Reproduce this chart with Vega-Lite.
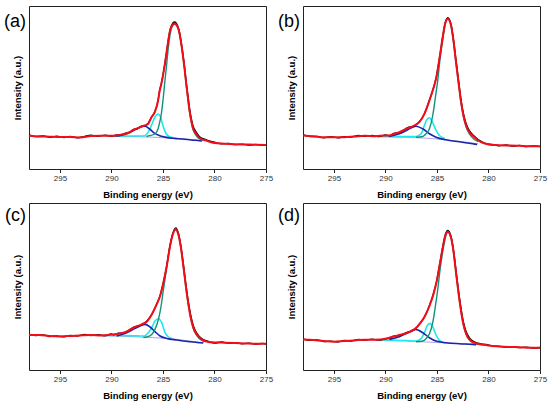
{
  "$schema": "https://vega.github.io/schema/vega-lite/v6.json",
  "padding": {"left": 3, "top": 5, "right": 2, "bottom": 8},
  "config": {
    "font": "Liberation Sans",
    "view": {"stroke": "#222", "strokeWidth": 1},
    "line": {"interpolate": "monotone"},
    "axis": {
      "grid": false,
      "domain": false,
      "tickColor": "#222",
      "labelFontSize": 8,
      "labelColor": "#333",
      "labelPadding": 1.5,
      "labelFlush": false,
      "labelOverlap": false,
      "titleFontSize": 9.5,
      "titleFontWeight": "bold",
      "titleColor": "#000"
    }
  },
  "datasets": {
    "lab": [{"p": "a", "t": "(a)"}, {"p": "b", "t": "(b)"}, {"p": "c", "t": "(c)"}, {"p": "d", "t": "(d)"}]
  },
  "data": {"values": [
    {"p":"a","s":"f","x":298,"y":33.3},{"p":"a","s":"f","x":297,"y":32.6},{"p":"a","s":"f","x":296,"y":32.3},{"p":"a","s":"f","x":295,"y":32},{"p":"a","s":"f","x":294,"y":32},{"p":"a","s":"f","x":293,"y":31.6},{"p":"a","s":"f","x":292,"y":33},{"p":"a","s":"f","x":291,"y":33.3},{"p":"a","s":"f","x":290,"y":33.3},{"p":"a","s":"f","x":289.5,"y":33.6},{"p":"a","s":"f","x":289,"y":34.5},{"p":"a","s":"f","x":288.7,"y":35},{"p":"a","s":"f","x":288.2,"y":37},{"p":"a","s":"f","x":287.9,"y":39},{"p":"a","s":"f","x":287.5,"y":40.5},{"p":"a","s":"f","x":287.1,"y":42.3},{"p":"a","s":"f","x":286.8,"y":43.5},{"p":"a","s":"f","x":286.45,"y":45},{"p":"a","s":"f","x":286.13,"y":51.6},{"p":"a","s":"f","x":285.8,"y":56.6},{"p":"a","s":"f","x":285.48,"y":68.3},{"p":"a","s":"f","x":285.32,"y":78.3},{"p":"a","s":"f","x":285.16,"y":85},{"p":"a","s":"f","x":285,"y":93.3},{"p":"a","s":"f","x":284.84,"y":103.3},{"p":"a","s":"f","x":284.67,"y":115},{"p":"a","s":"f","x":284.51,"y":126.6},{"p":"a","s":"f","x":284.35,"y":136.6},{"p":"a","s":"f","x":284.19,"y":142.3},{"p":"a","s":"f","x":283.87,"y":145.6},{"p":"a","s":"f","x":283.55,"y":141.6},{"p":"a","s":"f","x":283.38,"y":135},{"p":"a","s":"f","x":283.22,"y":125},{"p":"a","s":"f","x":283.06,"y":113.3},{"p":"a","s":"f","x":282.9,"y":100},{"p":"a","s":"f","x":282.74,"y":85},{"p":"a","s":"f","x":282.58,"y":71.6},{"p":"a","s":"f","x":282.42,"y":58.3},{"p":"a","s":"f","x":282.25,"y":48.3},{"p":"a","s":"f","x":282.1,"y":41.6},{"p":"a","s":"f","x":281.77,"y":35},{"p":"a","s":"f","x":281.45,"y":31},{"p":"a","s":"f","x":280.8,"y":28.5},{"p":"a","s":"f","x":280,"y":26},{"p":"a","s":"f","x":279,"y":25.3},{"p":"a","s":"f","x":278,"y":24.8},{"p":"a","s":"f","x":277,"y":24.5},{"p":"a","s":"f","x":276,"y":24.2},{"p":"a","s":"f","x":275,"y":24},

    {"p":"a","s":"r","x":298,"y":34.2},{"p":"a","s":"r","x":297.3,"y":32.4},{"p":"a","s":"r","x":296.6,"y":33.1},{"p":"a","s":"r","x":296,"y":31.6},{"p":"a","s":"r","x":295.3,"y":32.8},{"p":"a","s":"r","x":294.6,"y":31.4},{"p":"a","s":"r","x":294,"y":32.6},{"p":"a","s":"r","x":293.3,"y":31.2},{"p":"a","s":"r","x":292.6,"y":32.6},{"p":"a","s":"r","x":292,"y":33.8},{"p":"a","s":"r","x":291.3,"y":32.7},{"p":"a","s":"r","x":290.6,"y":33.9},{"p":"a","s":"r","x":290,"y":32.8},{"p":"a","s":"r","x":289.5,"y":34.1},{"p":"a","s":"r","x":289,"y":34.3},{"p":"a","s":"r","x":288.7,"y":35.6},{"p":"a","s":"r","x":288.2,"y":36.6},{"p":"a","s":"r","x":287.9,"y":39.5},{"p":"a","s":"r","x":287.5,"y":40.2},{"p":"a","s":"r","x":287.1,"y":42.9},{"p":"a","s":"r","x":286.8,"y":43.2},{"p":"a","s":"r","x":286.45,"y":45.6},{"p":"a","s":"r","x":286.13,"y":51.3},{"p":"a","s":"r","x":285.8,"y":57.2},{"p":"a","s":"r","x":285.48,"y":68},{"p":"a","s":"r","x":285.32,"y":78.8},{"p":"a","s":"r","x":285.16,"y":85.3},{"p":"a","s":"r","x":285,"y":93.8},{"p":"a","s":"r","x":284.84,"y":103.6},{"p":"a","s":"r","x":284.67,"y":115.5},{"p":"a","s":"r","x":284.51,"y":126.9},{"p":"a","s":"r","x":284.35,"y":137.2},{"p":"a","s":"r","x":284.19,"y":143},{"p":"a","s":"r","x":283.87,"y":147},{"p":"a","s":"r","x":283.55,"y":142.6},{"p":"a","s":"r","x":283.38,"y":136.2},{"p":"a","s":"r","x":283.22,"y":126.3},{"p":"a","s":"r","x":283.06,"y":114.8},{"p":"a","s":"r","x":282.9,"y":101.8},{"p":"a","s":"r","x":282.74,"y":87},{"p":"a","s":"r","x":282.58,"y":73.6},{"p":"a","s":"r","x":282.42,"y":60.6},{"p":"a","s":"r","x":282.25,"y":50.5},{"p":"a","s":"r","x":282.1,"y":43.8},{"p":"a","s":"r","x":281.77,"y":36.8},{"p":"a","s":"r","x":281.45,"y":32.4},{"p":"a","s":"r","x":280.8,"y":29.2},{"p":"a","s":"r","x":280,"y":26.8},{"p":"a","s":"r","x":279.3,"y":25.2},{"p":"a","s":"r","x":278.6,"y":25.5},{"p":"a","s":"r","x":278,"y":24.4},{"p":"a","s":"r","x":277.3,"y":24.9},{"p":"a","s":"r","x":276.6,"y":23.8},{"p":"a","s":"r","x":276,"y":24.6},{"p":"a","s":"r","x":275.3,"y":23.6},{"p":"a","s":"r","x":275,"y":24.3},

    {"p":"a","s":"t","x":286.6,"y":32.5},{"p":"a","s":"t","x":286.29,"y":33.3},{"p":"a","s":"t","x":285.8,"y":35},{"p":"a","s":"t","x":285.48,"y":40},{"p":"a","s":"t","x":285.32,"y":46.6},{"p":"a","s":"t","x":285.16,"y":55},{"p":"a","s":"t","x":285,"y":68.3},{"p":"a","s":"t","x":284.84,"y":85},{"p":"a","s":"t","x":284.67,"y":101.6},{"p":"a","s":"t","x":284.51,"y":118.3},{"p":"a","s":"t","x":284.35,"y":131.6},{"p":"a","s":"t","x":284.19,"y":140},{"p":"a","s":"t","x":283.87,"y":145},{"p":"a","s":"t","x":283.55,"y":141},{"p":"a","s":"t","x":283.38,"y":134.5},{"p":"a","s":"t","x":283.22,"y":124.5},{"p":"a","s":"t","x":283.06,"y":112.5},{"p":"a","s":"t","x":282.9,"y":99},{"p":"a","s":"t","x":282.74,"y":84},{"p":"a","s":"t","x":282.58,"y":70.5},{"p":"a","s":"t","x":282.42,"y":57},{"p":"a","s":"t","x":282.25,"y":47},{"p":"a","s":"t","x":282.1,"y":40},{"p":"a","s":"t","x":281.77,"y":33.5},{"p":"a","s":"t","x":281.45,"y":30},{"p":"a","s":"t","x":281.1,"y":29},

    {"p":"a","s":"c","x":290.5,"y":33},{"p":"a","s":"c","x":289,"y":33},{"p":"a","s":"c","x":288,"y":33},{"p":"a","s":"c","x":287.2,"y":33},{"p":"a","s":"c","x":286.77,"y":33.3},{"p":"a","s":"c","x":286.45,"y":36.6},{"p":"a","s":"c","x":286.13,"y":43.3},{"p":"a","s":"c","x":285.8,"y":51.6},{"p":"a","s":"c","x":285.48,"y":55},{"p":"a","s":"c","x":285.22,"y":51.6},{"p":"a","s":"c","x":285,"y":43.3},{"p":"a","s":"c","x":284.67,"y":35},{"p":"a","s":"c","x":284.35,"y":32.3},{"p":"a","s":"c","x":284,"y":31.5},

    {"p":"a","s":"b","x":289.6,"y":33},{"p":"a","s":"b","x":289.2,"y":33.3},{"p":"a","s":"b","x":288.22,"y":36.6},{"p":"a","s":"b","x":287.58,"y":40},{"p":"a","s":"b","x":287.1,"y":42.3},{"p":"a","s":"b","x":286.77,"y":43},{"p":"a","s":"b","x":286.29,"y":40},{"p":"a","s":"b","x":285.8,"y":35.6},{"p":"a","s":"b","x":285.32,"y":33.3},{"p":"a","s":"b","x":284.67,"y":31.6},{"p":"a","s":"b","x":283.87,"y":30.6},{"p":"a","s":"b","x":283.06,"y":30},{"p":"a","s":"b","x":282.25,"y":29},{"p":"a","s":"b","x":281.45,"y":28.3},{"p":"a","s":"b","x":281.2,"y":28},

    {"p":"a","s":"g","x":290.5,"y":32.8},{"p":"a","s":"g","x":288,"y":32.5},{"p":"a","s":"g","x":286,"y":31.8},{"p":"a","s":"g","x":284,"y":30.8},{"p":"a","s":"g","x":282,"y":29.3},{"p":"a","s":"g","x":281,"y":28.3},

    {"p":"b","s":"f","x":298,"y":33.5},{"p":"b","s":"f","x":297,"y":32.8},{"p":"b","s":"f","x":296,"y":31.8},{"p":"b","s":"f","x":295,"y":31.8},{"p":"b","s":"f","x":294,"y":31.8},{"p":"b","s":"f","x":293,"y":32.5},{"p":"b","s":"f","x":292,"y":33.2},{"p":"b","s":"f","x":291,"y":32.8},{"p":"b","s":"f","x":290,"y":33.5},{"p":"b","s":"f","x":289.62,"y":33.5},{"p":"b","s":"f","x":289.2,"y":35},{"p":"b","s":"f","x":288.65,"y":36.8},{"p":"b","s":"f","x":287.84,"y":40.8},{"p":"b","s":"f","x":287.19,"y":43.5},{"p":"b","s":"f","x":286.71,"y":46.8},{"p":"b","s":"f","x":286.22,"y":55.2},{"p":"b","s":"f","x":285.73,"y":68.5},{"p":"b","s":"f","x":285.41,"y":78.5},{"p":"b","s":"f","x":285.09,"y":90.2},{"p":"b","s":"f","x":284.76,"y":110.2},{"p":"b","s":"f","x":284.44,"y":131.8},{"p":"b","s":"f","x":284.21,"y":145.2},{"p":"b","s":"f","x":283.95,"y":150.2},{"p":"b","s":"f","x":283.63,"y":143.5},{"p":"b","s":"f","x":283.4,"y":128.5},{"p":"b","s":"f","x":283.15,"y":106.8},{"p":"b","s":"f","x":282.89,"y":85.2},{"p":"b","s":"f","x":282.66,"y":66.8},{"p":"b","s":"f","x":282.43,"y":53.5},{"p":"b","s":"f","x":282.17,"y":43.5},{"p":"b","s":"f","x":281.85,"y":36.8},{"p":"b","s":"f","x":281.37,"y":31.8},{"p":"b","s":"f","x":280.72,"y":26.8},{"p":"b","s":"f","x":280.23,"y":25.2},{"p":"b","s":"f","x":280,"y":24.6},{"p":"b","s":"f","x":279,"y":23.8},{"p":"b","s":"f","x":278,"y":23.5},{"p":"b","s":"f","x":277,"y":23.2},{"p":"b","s":"f","x":276,"y":22.8},{"p":"b","s":"f","x":275,"y":22.8},

    {"p":"b","s":"r","x":298,"y":34.3},{"p":"b","s":"r","x":297.3,"y":32.4},{"p":"b","s":"r","x":296.6,"y":32.6},{"p":"b","s":"r","x":296,"y":31.2},{"p":"b","s":"r","x":295.3,"y":32.4},{"p":"b","s":"r","x":294.6,"y":31.2},{"p":"b","s":"r","x":294,"y":32.3},{"p":"b","s":"r","x":293.3,"y":32},{"p":"b","s":"r","x":292.6,"y":33.6},{"p":"b","s":"r","x":292,"y":32.6},{"p":"b","s":"r","x":291.3,"y":33.5},{"p":"b","s":"r","x":290.6,"y":32.4},{"p":"b","s":"r","x":290,"y":34.1},{"p":"b","s":"r","x":289.62,"y":33.2},{"p":"b","s":"r","x":289.2,"y":35.6},{"p":"b","s":"r","x":288.65,"y":36.4},{"p":"b","s":"r","x":287.84,"y":41.3},{"p":"b","s":"r","x":287.19,"y":43.1},{"p":"b","s":"r","x":286.71,"y":47.3},{"p":"b","s":"r","x":286.22,"y":55},{"p":"b","s":"r","x":285.73,"y":69},{"p":"b","s":"r","x":285.41,"y":78.8},{"p":"b","s":"r","x":285.09,"y":90.6},{"p":"b","s":"r","x":284.76,"y":110.6},{"p":"b","s":"r","x":284.44,"y":132.3},{"p":"b","s":"r","x":284.21,"y":145.8},{"p":"b","s":"r","x":283.95,"y":151.4},{"p":"b","s":"r","x":283.63,"y":144.6},{"p":"b","s":"r","x":283.4,"y":130},{"p":"b","s":"r","x":283.15,"y":108.8},{"p":"b","s":"r","x":282.89,"y":87.4},{"p":"b","s":"r","x":282.66,"y":69},{"p":"b","s":"r","x":282.43,"y":55.6},{"p":"b","s":"r","x":282.17,"y":45.6},{"p":"b","s":"r","x":281.85,"y":38.4},{"p":"b","s":"r","x":281.37,"y":32.8},{"p":"b","s":"r","x":280.72,"y":27.6},{"p":"b","s":"r","x":280.23,"y":25.3},{"p":"b","s":"r","x":279.6,"y":24.6},{"p":"b","s":"r","x":279,"y":23.2},{"p":"b","s":"r","x":278.3,"y":24},{"p":"b","s":"r","x":277.6,"y":22.8},{"p":"b","s":"r","x":277,"y":23.6},{"p":"b","s":"r","x":276.3,"y":22.4},{"p":"b","s":"r","x":275.6,"y":23.2},{"p":"b","s":"r","x":275,"y":22.4},

    {"p":"b","s":"t","x":287.03,"y":31.8},{"p":"b","s":"t","x":286.38,"y":32.5},{"p":"b","s":"t","x":286.06,"y":35.2},{"p":"b","s":"t","x":285.73,"y":40.2},{"p":"b","s":"t","x":285.41,"y":53.5},{"p":"b","s":"t","x":285.15,"y":71.8},{"p":"b","s":"t","x":284.93,"y":88},{"p":"b","s":"t","x":284.7,"y":110},{"p":"b","s":"t","x":284.44,"y":129},{"p":"b","s":"t","x":284.21,"y":144.5},{"p":"b","s":"t","x":283.95,"y":150},{"p":"b","s":"t","x":283.63,"y":143},{"p":"b","s":"t","x":283.4,"y":128},{"p":"b","s":"t","x":283.15,"y":106},{"p":"b","s":"t","x":282.89,"y":84.5},{"p":"b","s":"t","x":282.66,"y":66},{"p":"b","s":"t","x":282.43,"y":52.5},{"p":"b","s":"t","x":282.17,"y":42},{"p":"b","s":"t","x":281.85,"y":35},{"p":"b","s":"t","x":281.37,"y":29.5},{"p":"b","s":"t","x":281,"y":27.5},

    {"p":"b","s":"c","x":290.5,"y":32.5},{"p":"b","s":"c","x":289,"y":32.5},{"p":"b","s":"c","x":288,"y":32.5},{"p":"b","s":"c","x":287.03,"y":32.5},{"p":"b","s":"c","x":286.54,"y":35.2},{"p":"b","s":"c","x":286.22,"y":43.5},{"p":"b","s":"c","x":285.99,"y":49.2},{"p":"b","s":"c","x":285.73,"y":51.2},{"p":"b","s":"c","x":285.48,"y":47.8},{"p":"b","s":"c","x":285.15,"y":40.2},{"p":"b","s":"c","x":284.76,"y":33.5},{"p":"b","s":"c","x":284.44,"y":31.2},{"p":"b","s":"c","x":284.2,"y":30.5},

    {"p":"b","s":"b","x":289.62,"y":32.5},{"p":"b","s":"b","x":288.65,"y":35.2},{"p":"b","s":"b","x":287.84,"y":39.2},{"p":"b","s":"b","x":287.03,"y":42.8},{"p":"b","s":"b","x":286.38,"y":40.2},{"p":"b","s":"b","x":285.73,"y":35.2},{"p":"b","s":"b","x":285.09,"y":31.8},{"p":"b","s":"b","x":284.12,"y":29.2},{"p":"b","s":"b","x":282.83,"y":27.2},{"p":"b","s":"b","x":281.53,"y":25.2},{"p":"b","s":"b","x":281.1,"y":24.5},

    {"p":"b","s":"g","x":290.5,"y":32.3},{"p":"b","s":"g","x":288,"y":31.6},{"p":"b","s":"g","x":286,"y":30.8},{"p":"b","s":"g","x":284,"y":29},{"p":"b","s":"g","x":282,"y":26.6},{"p":"b","s":"g","x":281,"y":25.2},

    {"p":"c","s":"f","x":298,"y":35},{"p":"c","s":"f","x":297,"y":35},{"p":"c","s":"f","x":296,"y":34},{"p":"c","s":"f","x":295,"y":33.6},{"p":"c","s":"f","x":294,"y":34},{"p":"c","s":"f","x":293,"y":34.6},{"p":"c","s":"f","x":292,"y":35},{"p":"c","s":"f","x":291,"y":34.6},{"p":"c","s":"f","x":290,"y":35.4},{"p":"c","s":"f","x":289.81,"y":35.6},{"p":"c","s":"f","x":289.3,"y":36.3},{"p":"c","s":"f","x":288.84,"y":37.3},{"p":"c","s":"f","x":288.3,"y":39.5},{"p":"c","s":"f","x":287.87,"y":42.3},{"p":"c","s":"f","x":287.06,"y":45.6},{"p":"c","s":"f","x":286.58,"y":48.3},{"p":"c","s":"f","x":286.09,"y":55.6},{"p":"c","s":"f","x":285.61,"y":65.6},{"p":"c","s":"f","x":285.28,"y":74},{"p":"c","s":"f","x":284.96,"y":87.3},{"p":"c","s":"f","x":284.63,"y":104},{"p":"c","s":"f","x":284.31,"y":124},{"p":"c","s":"f","x":284.05,"y":135.6},{"p":"c","s":"f","x":283.76,"y":140.6},{"p":"c","s":"f","x":283.5,"y":135.6},{"p":"c","s":"f","x":283.28,"y":124},{"p":"c","s":"f","x":283.02,"y":104},{"p":"c","s":"f","x":282.76,"y":82.3},{"p":"c","s":"f","x":282.53,"y":65.6},{"p":"c","s":"f","x":282.3,"y":52.3},{"p":"c","s":"f","x":282.05,"y":42.3},{"p":"c","s":"f","x":281.72,"y":35.6},{"p":"c","s":"f","x":281.24,"y":30.6},{"p":"c","s":"f","x":280.59,"y":28},{"p":"c","s":"f","x":280,"y":27.6},{"p":"c","s":"f","x":279,"y":27.3},{"p":"c","s":"f","x":278,"y":27},{"p":"c","s":"f","x":277,"y":26.6},{"p":"c","s":"f","x":276,"y":26.3},{"p":"c","s":"f","x":275,"y":26.3},

    {"p":"c","s":"r","x":298,"y":35.6},{"p":"c","s":"r","x":297.3,"y":34.4},{"p":"c","s":"r","x":296.6,"y":35.2},{"p":"c","s":"r","x":296,"y":33.5},{"p":"c","s":"r","x":295.3,"y":34.2},{"p":"c","s":"r","x":294.6,"y":33.2},{"p":"c","s":"r","x":294,"y":34.6},{"p":"c","s":"r","x":293.3,"y":34},{"p":"c","s":"r","x":292.6,"y":35.6},{"p":"c","s":"r","x":292,"y":34.5},{"p":"c","s":"r","x":291.3,"y":35.3},{"p":"c","s":"r","x":290.6,"y":34.2},{"p":"c","s":"r","x":290,"y":36.2},{"p":"c","s":"r","x":289.81,"y":35.2},{"p":"c","s":"r","x":289.3,"y":36.8},{"p":"c","s":"r","x":288.84,"y":37},{"p":"c","s":"r","x":288.3,"y":39.9},{"p":"c","s":"r","x":287.87,"y":42.8},{"p":"c","s":"r","x":287.06,"y":45.2},{"p":"c","s":"r","x":286.58,"y":48.9},{"p":"c","s":"r","x":286.09,"y":55.4},{"p":"c","s":"r","x":285.61,"y":66.1},{"p":"c","s":"r","x":285.28,"y":74.4},{"p":"c","s":"r","x":284.96,"y":87.6},{"p":"c","s":"r","x":284.63,"y":104.5},{"p":"c","s":"r","x":284.31,"y":124.5},{"p":"c","s":"r","x":284.05,"y":136.3},{"p":"c","s":"r","x":283.76,"y":142.2},{"p":"c","s":"r","x":283.5,"y":136.8},{"p":"c","s":"r","x":283.28,"y":125.5},{"p":"c","s":"r","x":283.02,"y":106},{"p":"c","s":"r","x":282.76,"y":84.5},{"p":"c","s":"r","x":282.53,"y":67.8},{"p":"c","s":"r","x":282.3,"y":54.5},{"p":"c","s":"r","x":282.05,"y":44.2},{"p":"c","s":"r","x":281.72,"y":37},{"p":"c","s":"r","x":281.24,"y":31.4},{"p":"c","s":"r","x":280.59,"y":28.6},{"p":"c","s":"r","x":280,"y":27},{"p":"c","s":"r","x":279.3,"y":28},{"p":"c","s":"r","x":278.6,"y":26.6},{"p":"c","s":"r","x":278,"y":27.4},{"p":"c","s":"r","x":277.3,"y":26.2},{"p":"c","s":"r","x":276.6,"y":26.9},{"p":"c","s":"r","x":276,"y":25.8},{"p":"c","s":"r","x":275.3,"y":26.7},{"p":"c","s":"r","x":275,"y":25.9},

    {"p":"c","s":"t","x":286.9,"y":32.5},{"p":"c","s":"t","x":286.58,"y":33},{"p":"c","s":"t","x":286.09,"y":35.6},{"p":"c","s":"t","x":285.77,"y":40.6},{"p":"c","s":"t","x":285.44,"y":50.6},{"p":"c","s":"t","x":285.18,"y":64},{"p":"c","s":"t","x":284.96,"y":80},{"p":"c","s":"t","x":284.7,"y":98},{"p":"c","s":"t","x":284.47,"y":115},{"p":"c","s":"t","x":284.25,"y":128},{"p":"c","s":"t","x":283.99,"y":137.5},{"p":"c","s":"t","x":283.76,"y":140.3},{"p":"c","s":"t","x":283.5,"y":135},{"p":"c","s":"t","x":283.28,"y":123.3},{"p":"c","s":"t","x":283.02,"y":103.3},{"p":"c","s":"t","x":282.76,"y":81.5},{"p":"c","s":"t","x":282.53,"y":64.8},{"p":"c","s":"t","x":282.3,"y":51.5},{"p":"c","s":"t","x":282.05,"y":41.3},{"p":"c","s":"t","x":281.72,"y":34.5},{"p":"c","s":"t","x":281.24,"y":29.5},{"p":"c","s":"t","x":281,"y":28.5},

    {"p":"c","s":"c","x":290.5,"y":34.5},{"p":"c","s":"c","x":289,"y":34.5},{"p":"c","s":"c","x":288,"y":34.3},{"p":"c","s":"c","x":286.9,"y":34},{"p":"c","s":"c","x":286.41,"y":37.3},{"p":"c","s":"c","x":286.09,"y":42.3},{"p":"c","s":"c","x":285.77,"y":49},{"p":"c","s":"c","x":285.44,"y":51.3},{"p":"c","s":"c","x":285.12,"y":47.3},{"p":"c","s":"c","x":284.8,"y":37.3},{"p":"c","s":"c","x":284.47,"y":33},{"p":"c","s":"c","x":284.15,"y":31.6},

    {"p":"c","s":"b","x":289.49,"y":34},{"p":"c","s":"b","x":288.52,"y":37.3},{"p":"c","s":"b","x":287.71,"y":41.6},{"p":"c","s":"b","x":287.22,"y":44},{"p":"c","s":"b","x":286.74,"y":45.6},{"p":"c","s":"b","x":286.25,"y":43},{"p":"c","s":"b","x":285.77,"y":38.3},{"p":"c","s":"b","x":285.28,"y":34},{"p":"c","s":"b","x":284.63,"y":31.6},{"p":"c","s":"b","x":283.66,"y":30},{"p":"c","s":"b","x":282.37,"y":28.3},{"p":"c","s":"b","x":281.4,"y":27.3},{"p":"c","s":"b","x":281.1,"y":27},

    {"p":"c","s":"g","x":290.5,"y":34.2},{"p":"c","s":"g","x":288,"y":33.4},{"p":"c","s":"g","x":286,"y":32.4},{"p":"c","s":"g","x":284,"y":31},{"p":"c","s":"g","x":282,"y":28.5},{"p":"c","s":"g","x":281,"y":27.2},

    {"p":"d","s":"f","x":298,"y":30.6},{"p":"d","s":"f","x":297,"y":30},{"p":"d","s":"f","x":296,"y":29},{"p":"d","s":"f","x":295,"y":28.3},{"p":"d","s":"f","x":294,"y":29},{"p":"d","s":"f","x":293,"y":29.6},{"p":"d","s":"f","x":292,"y":30.3},{"p":"d","s":"f","x":291,"y":30.3},{"p":"d","s":"f","x":290,"y":31},{"p":"d","s":"f","x":289.62,"y":32.3},{"p":"d","s":"f","x":289.2,"y":33.5},{"p":"d","s":"f","x":288.65,"y":35},{"p":"d","s":"f","x":287.84,"y":37.3},{"p":"d","s":"f","x":287.19,"y":40.6},{"p":"d","s":"f","x":286.71,"y":45.6},{"p":"d","s":"f","x":286.22,"y":53},{"p":"d","s":"f","x":285.73,"y":64},{"p":"d","s":"f","x":285.35,"y":75.6},{"p":"d","s":"f","x":285.02,"y":89},{"p":"d","s":"f","x":284.7,"y":107.3},{"p":"d","s":"f","x":284.44,"y":122.3},{"p":"d","s":"f","x":284.21,"y":134},{"p":"d","s":"f","x":283.95,"y":138.3},{"p":"d","s":"f","x":283.63,"y":132.3},{"p":"d","s":"f","x":283.4,"y":119},{"p":"d","s":"f","x":283.15,"y":97.3},{"p":"d","s":"f","x":282.89,"y":75.6},{"p":"d","s":"f","x":282.66,"y":59},{"p":"d","s":"f","x":282.43,"y":45.6},{"p":"d","s":"f","x":282.17,"y":36.3},{"p":"d","s":"f","x":281.85,"y":30.6},{"p":"d","s":"f","x":281.37,"y":27.3},{"p":"d","s":"f","x":280.72,"y":25.6},{"p":"d","s":"f","x":280.23,"y":25},{"p":"d","s":"f","x":280,"y":24.5},{"p":"d","s":"f","x":279,"y":23.5},{"p":"d","s":"f","x":278,"y":23},{"p":"d","s":"f","x":277,"y":22.8},{"p":"d","s":"f","x":276,"y":22.3},{"p":"d","s":"f","x":275,"y":22.2},

    {"p":"d","s":"r","x":298,"y":31.2},{"p":"d","s":"r","x":297.3,"y":29.6},{"p":"d","s":"r","x":296.6,"y":30},{"p":"d","s":"r","x":296,"y":28.5},{"p":"d","s":"r","x":295.3,"y":28.9},{"p":"d","s":"r","x":294.6,"y":28},{"p":"d","s":"r","x":294,"y":29.5},{"p":"d","s":"r","x":293.3,"y":29},{"p":"d","s":"r","x":292.6,"y":30.6},{"p":"d","s":"r","x":292,"y":29.8},{"p":"d","s":"r","x":291.3,"y":30.8},{"p":"d","s":"r","x":290.6,"y":29.8},{"p":"d","s":"r","x":290,"y":31.5},{"p":"d","s":"r","x":289.62,"y":31.9},{"p":"d","s":"r","x":289.2,"y":33.9},{"p":"d","s":"r","x":288.65,"y":34.6},{"p":"d","s":"r","x":287.84,"y":37.8},{"p":"d","s":"r","x":287.19,"y":40.2},{"p":"d","s":"r","x":286.71,"y":46.1},{"p":"d","s":"r","x":286.22,"y":52.7},{"p":"d","s":"r","x":285.73,"y":64.5},{"p":"d","s":"r","x":285.35,"y":75.9},{"p":"d","s":"r","x":285.02,"y":89.4},{"p":"d","s":"r","x":284.7,"y":107.8},{"p":"d","s":"r","x":284.44,"y":122.8},{"p":"d","s":"r","x":284.21,"y":134.6},{"p":"d","s":"r","x":283.95,"y":139.6},{"p":"d","s":"r","x":283.63,"y":133.6},{"p":"d","s":"r","x":283.4,"y":120.5},{"p":"d","s":"r","x":283.15,"y":99.5},{"p":"d","s":"r","x":282.89,"y":78},{"p":"d","s":"r","x":282.66,"y":61.5},{"p":"d","s":"r","x":282.43,"y":48},{"p":"d","s":"r","x":282.17,"y":38.5},{"p":"d","s":"r","x":281.85,"y":32.2},{"p":"d","s":"r","x":281.37,"y":28.2},{"p":"d","s":"r","x":280.72,"y":26.2},{"p":"d","s":"r","x":280.23,"y":25.6},{"p":"d","s":"r","x":279.6,"y":24},{"p":"d","s":"r","x":279,"y":23.8},{"p":"d","s":"r","x":278.3,"y":22.8},{"p":"d","s":"r","x":277.6,"y":23.4},{"p":"d","s":"r","x":277,"y":22.4},{"p":"d","s":"r","x":276.3,"y":22.9},{"p":"d","s":"r","x":275.6,"y":21.9},{"p":"d","s":"r","x":275,"y":22.5},

    {"p":"d","s":"t","x":287.03,"y":28.3},{"p":"d","s":"t","x":286.38,"y":29},{"p":"d","s":"t","x":286.06,"y":31.3},{"p":"d","s":"t","x":285.73,"y":36.3},{"p":"d","s":"t","x":285.41,"y":47.3},{"p":"d","s":"t","x":285.15,"y":64},{"p":"d","s":"t","x":284.93,"y":80},{"p":"d","s":"t","x":284.7,"y":100},{"p":"d","s":"t","x":284.44,"y":118.5},{"p":"d","s":"t","x":284.21,"y":131},{"p":"d","s":"t","x":283.95,"y":138},{"p":"d","s":"t","x":283.63,"y":131.8},{"p":"d","s":"t","x":283.4,"y":118.3},{"p":"d","s":"t","x":283.15,"y":96.5},{"p":"d","s":"t","x":282.89,"y":75},{"p":"d","s":"t","x":282.66,"y":58.3},{"p":"d","s":"t","x":282.43,"y":45},{"p":"d","s":"t","x":282.17,"y":35.6},{"p":"d","s":"t","x":281.85,"y":30},{"p":"d","s":"t","x":281.37,"y":26.8},{"p":"d","s":"t","x":281,"y":26},

    {"p":"d","s":"c","x":290.5,"y":30},{"p":"d","s":"c","x":289,"y":29.8},{"p":"d","s":"c","x":288,"y":29.5},{"p":"d","s":"c","x":287.03,"y":29},{"p":"d","s":"c","x":286.54,"y":31.3},{"p":"d","s":"c","x":286.22,"y":37.3},{"p":"d","s":"c","x":285.96,"y":44},{"p":"d","s":"c","x":285.67,"y":46.6},{"p":"d","s":"c","x":285.41,"y":43.3},{"p":"d","s":"c","x":285.09,"y":35},{"p":"d","s":"c","x":284.7,"y":29},{"p":"d","s":"c","x":284.28,"y":27.3},

    {"p":"d","s":"b","x":289.62,"y":30.6},{"p":"d","s":"b","x":288.65,"y":33.3},{"p":"d","s":"b","x":287.84,"y":37.3},{"p":"d","s":"b","x":287.1,"y":40.6},{"p":"d","s":"b","x":286.38,"y":37.3},{"p":"d","s":"b","x":285.73,"y":32.3},{"p":"d","s":"b","x":285.09,"y":29},{"p":"d","s":"b","x":284.12,"y":27.3},{"p":"d","s":"b","x":282.83,"y":26.3},{"p":"d","s":"b","x":281.53,"y":25.6},{"p":"d","s":"b","x":281.2,"y":25.3},

    {"p":"d","s":"g","x":290.5,"y":29.8},{"p":"d","s":"g","x":288,"y":29},{"p":"d","s":"g","x":286,"y":28},{"p":"d","s":"g","x":284,"y":27},{"p":"d","s":"g","x":282,"y":26},{"p":"d","s":"g","x":281,"y":25.3}
  ]},
  "columns": 2,
  "spacing": {"row": 3, "column": 3},
  "concat": [
    {
      "width": 237, "height": 163,
      "layer": [
        {"transform": [{"filter": "datum.p == 'a' && datum.s == 'g'"}], "mark": {"type": "line", "color": "#aaa4ee", "strokeWidth": 1},
          "encoding": {
            "x": {"field": "x", "type": "quantitative", "title": "Binding energy (eV)",
              "scale": {"domain": [275, 298], "reverse": true, "nice": false, "zero": false},
              "axis": {"values": [297.5, 295, 292.5, 290, 287.5, 285, 282.5, 280, 277.5, 275], "labelExpr": "datum.value % 5 == 0 ? datum.label : ''", "tickSize": {"condition": {"test": "datum.value % 5 != 0", "value": 2}, "value": 3.5}, "titlePadding": 7}},
            "y": {"field": "y", "type": "quantitative", "title": "Intensity (a.u.)",
              "scale": {"domain": [0, 163], "nice": false},
              "axis": {"labels": false, "ticks": false, "titlePadding": 7}}
          }},
        {"transform": [{"filter": "datum.p == 'a' && datum.s == 'c'"}], "mark": {"type": "line", "color": "#1ee8ee", "strokeWidth": 1.6}, "encoding": {"x": {"field": "x", "type": "quantitative"}, "y": {"field": "y", "type": "quantitative"}}},
        {"transform": [{"filter": "datum.p == 'a' && datum.s == 'b'"}], "mark": {"type": "line", "color": "#1c24a8", "strokeWidth": 1.6}, "encoding": {"x": {"field": "x", "type": "quantitative"}, "y": {"field": "y", "type": "quantitative"}}},
        {"transform": [{"filter": "datum.p == 'a' && datum.s == 't'"}], "mark": {"type": "line", "color": "#10917f", "strokeWidth": 1.4}, "encoding": {"x": {"field": "x", "type": "quantitative"}, "y": {"field": "y", "type": "quantitative"}}},
        {"transform": [{"filter": "datum.p == 'a' && datum.s == 'r'"}], "mark": {"type": "line", "color": "#000000", "strokeWidth": 1.3}, "encoding": {"x": {"field": "x", "type": "quantitative"}, "y": {"field": "y", "type": "quantitative"}}},
        {"transform": [{"filter": "datum.p == 'a' && datum.s == 'f'"}], "mark": {"type": "line", "color": "#f20d18", "strokeWidth": 2}, "encoding": {"x": {"field": "x", "type": "quantitative"}, "y": {"field": "y", "type": "quantitative"}}},
        {"data": {"name": "lab"}, "transform": [{"filter": "datum.p == 'a'"}],
          "mark": {"type": "text", "align": "right", "baseline": "middle", "dx": -3, "fontSize": 18, "font": "Liberation Sans", "color": "#000000"},
          "encoding": {"x": {"datum": 298}, "y": {"datum": 147}, "text": {"field": "t", "type": "nominal"}}}
      ]
    },
    {
      "width": 237, "height": 163,
      "layer": [
        {"transform": [{"filter": "datum.p == 'b' && datum.s == 'g'"}], "mark": {"type": "line", "color": "#aaa4ee", "strokeWidth": 1},
          "encoding": {
            "x": {"field": "x", "type": "quantitative", "title": "Binding energy (eV)",
              "scale": {"domain": [275, 298], "reverse": true, "nice": false, "zero": false},
              "axis": {"values": [297.5, 295, 292.5, 290, 287.5, 285, 282.5, 280, 277.5, 275], "labelExpr": "datum.value % 5 == 0 ? datum.label : ''", "tickSize": {"condition": {"test": "datum.value % 5 != 0", "value": 2}, "value": 3.5}, "titlePadding": 7}},
            "y": {"field": "y", "type": "quantitative", "title": "Intensity (a.u.)",
              "scale": {"domain": [0, 163], "nice": false},
              "axis": {"labels": false, "ticks": false, "titlePadding": 7}}
          }},
        {"transform": [{"filter": "datum.p == 'b' && datum.s == 'c'"}], "mark": {"type": "line", "color": "#1ee8ee", "strokeWidth": 1.6}, "encoding": {"x": {"field": "x", "type": "quantitative"}, "y": {"field": "y", "type": "quantitative"}}},
        {"transform": [{"filter": "datum.p == 'b' && datum.s == 'b'"}], "mark": {"type": "line", "color": "#1c24a8", "strokeWidth": 1.6}, "encoding": {"x": {"field": "x", "type": "quantitative"}, "y": {"field": "y", "type": "quantitative"}}},
        {"transform": [{"filter": "datum.p == 'b' && datum.s == 't'"}], "mark": {"type": "line", "color": "#10917f", "strokeWidth": 1.4}, "encoding": {"x": {"field": "x", "type": "quantitative"}, "y": {"field": "y", "type": "quantitative"}}},
        {"transform": [{"filter": "datum.p == 'b' && datum.s == 'r'"}], "mark": {"type": "line", "color": "#000000", "strokeWidth": 1.3}, "encoding": {"x": {"field": "x", "type": "quantitative"}, "y": {"field": "y", "type": "quantitative"}}},
        {"transform": [{"filter": "datum.p == 'b' && datum.s == 'f'"}], "mark": {"type": "line", "color": "#f20d18", "strokeWidth": 2}, "encoding": {"x": {"field": "x", "type": "quantitative"}, "y": {"field": "y", "type": "quantitative"}}},
        {"data": {"name": "lab"}, "transform": [{"filter": "datum.p == 'b'"}],
          "mark": {"type": "text", "align": "right", "baseline": "middle", "dx": -3, "fontSize": 18, "font": "Liberation Sans", "color": "#000000"},
          "encoding": {"x": {"datum": 298}, "y": {"datum": 147}, "text": {"field": "t", "type": "nominal"}}}
      ]
    },
    {
      "width": 237, "height": 167,
      "layer": [
        {"transform": [{"filter": "datum.p == 'c' && datum.s == 'g'"}], "mark": {"type": "line", "color": "#aaa4ee", "strokeWidth": 1},
          "encoding": {
            "x": {"field": "x", "type": "quantitative", "title": "Binding energy (eV)",
              "scale": {"domain": [275, 298], "reverse": true, "nice": false, "zero": false},
              "axis": {"values": [297.5, 295, 292.5, 290, 287.5, 285, 282.5, 280, 277.5, 275], "labelExpr": "datum.value % 5 == 0 ? datum.label : ''", "tickSize": {"condition": {"test": "datum.value % 5 != 0", "value": 2}, "value": 3.5}, "titlePadding": 7}},
            "y": {"field": "y", "type": "quantitative", "title": "Intensity (a.u.)",
              "scale": {"domain": [0, 167], "nice": false},
              "axis": {"labels": false, "ticks": false, "titlePadding": 7}}
          }},
        {"transform": [{"filter": "datum.p == 'c' && datum.s == 'c'"}], "mark": {"type": "line", "color": "#1ee8ee", "strokeWidth": 1.6}, "encoding": {"x": {"field": "x", "type": "quantitative"}, "y": {"field": "y", "type": "quantitative"}}},
        {"transform": [{"filter": "datum.p == 'c' && datum.s == 'b'"}], "mark": {"type": "line", "color": "#1c24a8", "strokeWidth": 1.6}, "encoding": {"x": {"field": "x", "type": "quantitative"}, "y": {"field": "y", "type": "quantitative"}}},
        {"transform": [{"filter": "datum.p == 'c' && datum.s == 't'"}], "mark": {"type": "line", "color": "#10917f", "strokeWidth": 1.4}, "encoding": {"x": {"field": "x", "type": "quantitative"}, "y": {"field": "y", "type": "quantitative"}}},
        {"transform": [{"filter": "datum.p == 'c' && datum.s == 'r'"}], "mark": {"type": "line", "color": "#000000", "strokeWidth": 1.3}, "encoding": {"x": {"field": "x", "type": "quantitative"}, "y": {"field": "y", "type": "quantitative"}}},
        {"transform": [{"filter": "datum.p == 'c' && datum.s == 'f'"}], "mark": {"type": "line", "color": "#f20d18", "strokeWidth": 2}, "encoding": {"x": {"field": "x", "type": "quantitative"}, "y": {"field": "y", "type": "quantitative"}}},
        {"data": {"name": "lab"}, "transform": [{"filter": "datum.p == 'c'"}],
          "mark": {"type": "text", "align": "right", "baseline": "middle", "dx": -3, "fontSize": 18, "font": "Liberation Sans", "color": "#000000"},
          "encoding": {"x": {"datum": 298}, "y": {"datum": 154}, "text": {"field": "t", "type": "nominal"}}}
      ]
    },
    {
      "width": 237, "height": 167,
      "layer": [
        {"transform": [{"filter": "datum.p == 'd' && datum.s == 'g'"}], "mark": {"type": "line", "color": "#aaa4ee", "strokeWidth": 1},
          "encoding": {
            "x": {"field": "x", "type": "quantitative", "title": "Binding energy (eV)",
              "scale": {"domain": [275, 298], "reverse": true, "nice": false, "zero": false},
              "axis": {"values": [297.5, 295, 292.5, 290, 287.5, 285, 282.5, 280, 277.5, 275], "labelExpr": "datum.value % 5 == 0 ? datum.label : ''", "tickSize": {"condition": {"test": "datum.value % 5 != 0", "value": 2}, "value": 3.5}, "titlePadding": 7}},
            "y": {"field": "y", "type": "quantitative", "title": "Intensity (a.u.)",
              "scale": {"domain": [0, 167], "nice": false},
              "axis": {"labels": false, "ticks": false, "titlePadding": 7}}
          }},
        {"transform": [{"filter": "datum.p == 'd' && datum.s == 'c'"}], "mark": {"type": "line", "color": "#1ee8ee", "strokeWidth": 1.6}, "encoding": {"x": {"field": "x", "type": "quantitative"}, "y": {"field": "y", "type": "quantitative"}}},
        {"transform": [{"filter": "datum.p == 'd' && datum.s == 'b'"}], "mark": {"type": "line", "color": "#1c24a8", "strokeWidth": 1.6}, "encoding": {"x": {"field": "x", "type": "quantitative"}, "y": {"field": "y", "type": "quantitative"}}},
        {"transform": [{"filter": "datum.p == 'd' && datum.s == 't'"}], "mark": {"type": "line", "color": "#10917f", "strokeWidth": 1.4}, "encoding": {"x": {"field": "x", "type": "quantitative"}, "y": {"field": "y", "type": "quantitative"}}},
        {"transform": [{"filter": "datum.p == 'd' && datum.s == 'r'"}], "mark": {"type": "line", "color": "#000000", "strokeWidth": 1.3}, "encoding": {"x": {"field": "x", "type": "quantitative"}, "y": {"field": "y", "type": "quantitative"}}},
        {"transform": [{"filter": "datum.p == 'd' && datum.s == 'f'"}], "mark": {"type": "line", "color": "#f20d18", "strokeWidth": 2}, "encoding": {"x": {"field": "x", "type": "quantitative"}, "y": {"field": "y", "type": "quantitative"}}},
        {"data": {"name": "lab"}, "transform": [{"filter": "datum.p == 'd'"}],
          "mark": {"type": "text", "align": "right", "baseline": "middle", "dx": -3, "fontSize": 18, "font": "Liberation Sans", "color": "#000000"},
          "encoding": {"x": {"datum": 298}, "y": {"datum": 154}, "text": {"field": "t", "type": "nominal"}}}
      ]
    }
  ]
}
